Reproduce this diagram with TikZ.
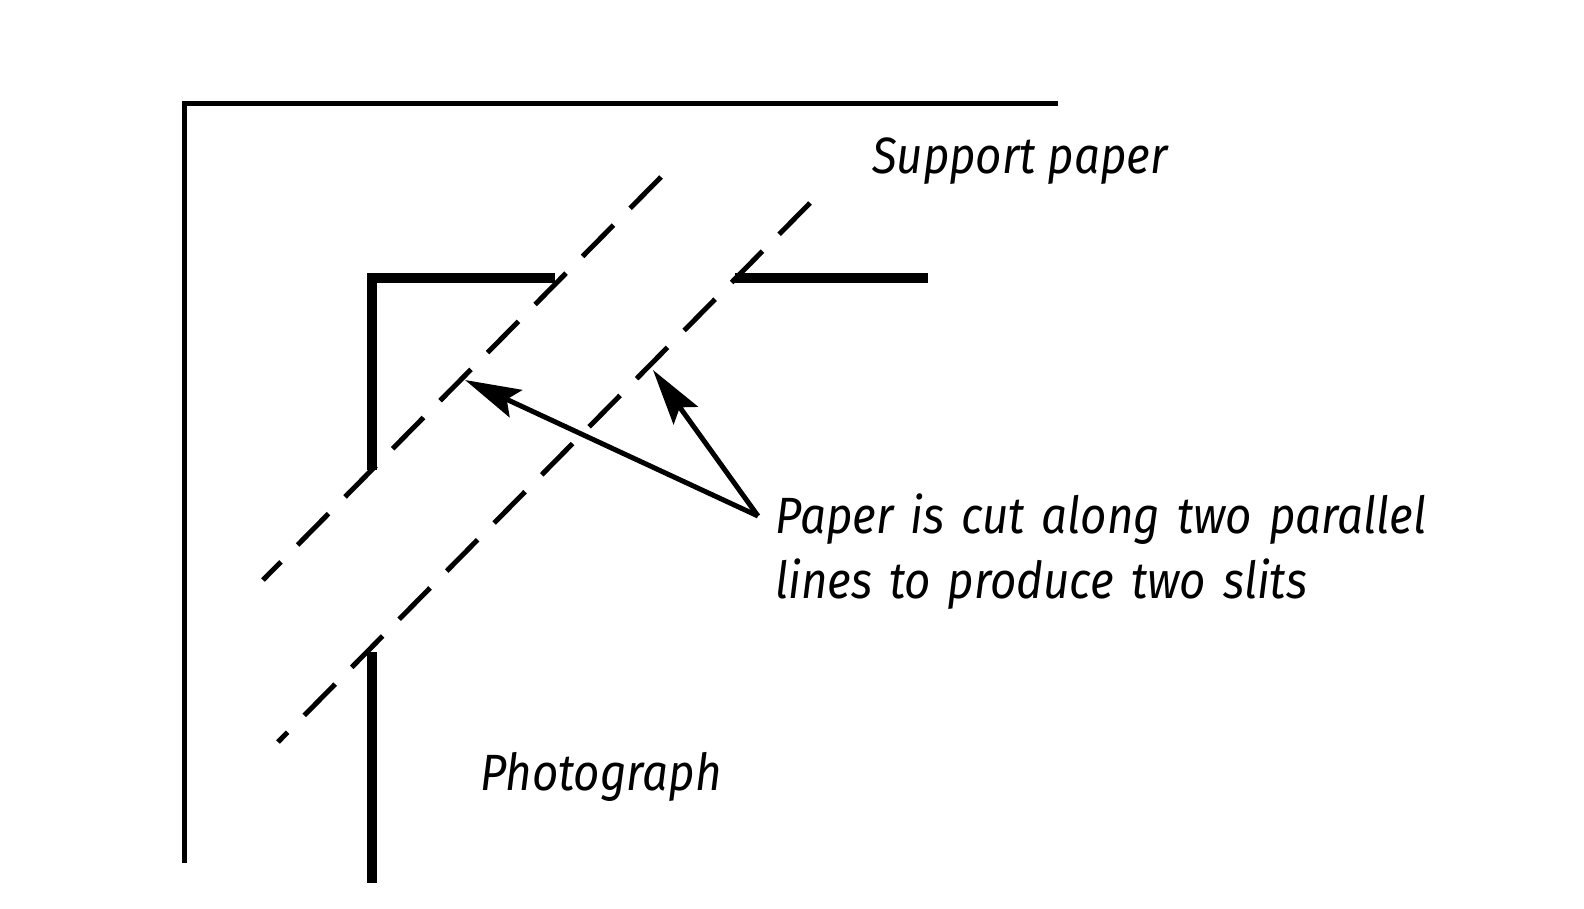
\documentclass[tikz,border=0pt]{standalone}
\usepackage{fontspec}
\setmainfont{Fira Sans}[FakeStretch=0.895]
\usetikzlibrary{arrows.meta}
\begin{document}
\begin{tikzpicture}[x=1pt,y=-1pt,
  support/.style={line width=5pt,line join=miter},
  photo/.style={line width=10pt,line join=miter},
  cutline/.style={line width=5pt,dash pattern=on 44pt off 23.6pt},
  pointer/.style={line width=5pt,-{Stealth[length=56pt,width=30pt,inset=10pt]}},
  label/.style={inner sep=0pt,font=\fontsize{51}{65}\selectfont\itshape}]
\useasboundingbox (0,0) rectangle (1584,908);
% support paper
\draw[support] (1058,103) -- (184,103) -- (184,863);
% photograph
\draw[photo] (555,278) -- (372,278) -- (372,470);
\draw[photo] (735,278) -- (928,278);
\draw[photo] (372,652) -- (372,883);
% cut lines
\coordinate (c1a) at (661,177);
\coordinate (c1b) at (263,580);
\coordinate (c2a) at (810,203);
\coordinate (c2b) at (278,742);
\draw[cutline] (c1a) -- (c1b);
\draw[cutline] (c2a) -- (c2b);
% labels
\node[label,anchor=base west] (sup) at (872,173) {Support paper};
\node[label,anchor=base west] (pho) at (480,790) {Photograph};
\node[label,anchor=base west,text width=760pt,align=left] (cut) at (775,533)
  {Paper is cut along two parallel\\lines to produce two slits};
% arrows
\coordinate (from) at (758,516);
\coordinate (t1) at (465,380);
\coordinate (t2) at (653,370);
\draw[pointer] (from) -- (t1);
\draw[pointer] (from) -- (t2);
\end{tikzpicture}
\end{document}
